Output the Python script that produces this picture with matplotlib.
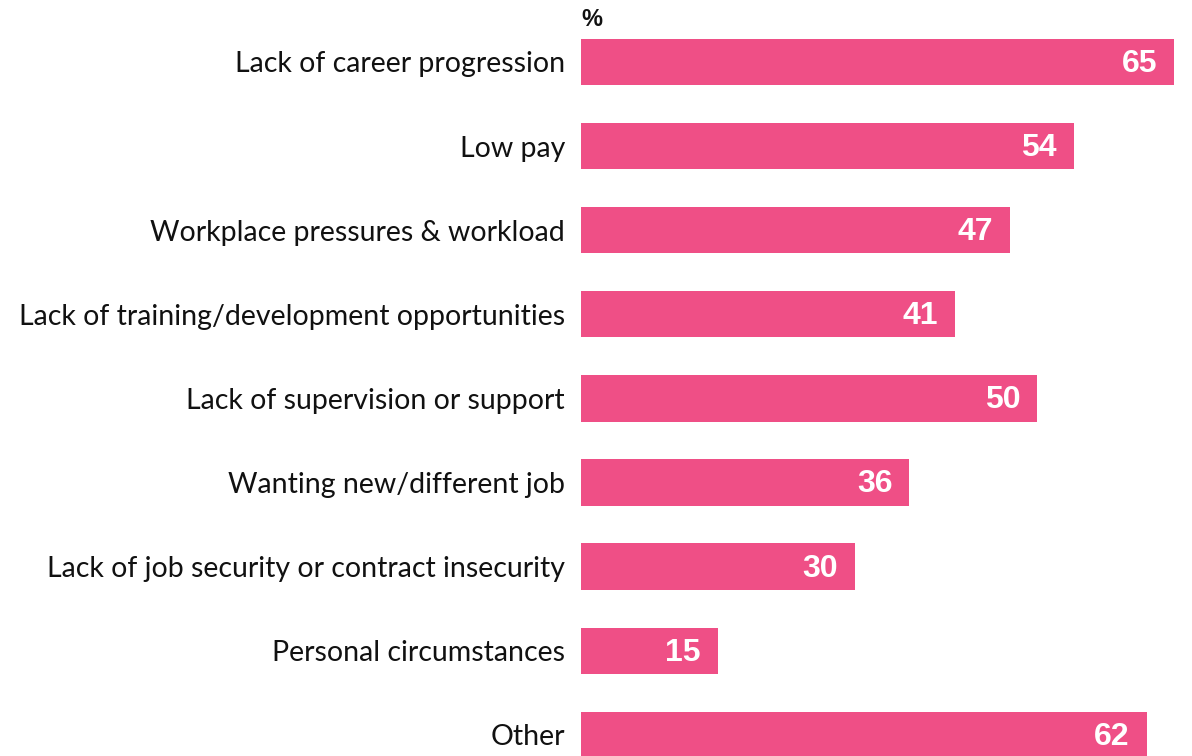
import matplotlib
matplotlib.use("Agg")
import matplotlib.pyplot as plt

# Reasons for leaving, share of respondents (%)
categories = [
    "Lack of career progression",
    "Low pay",
    "Workplace pressures & workload",
    "Lack of training/development opportunities",
    "Lack of supervision or support",
    "Wanting new/different job",
    "Lack of job security or contract insecurity",
    "Personal circumstances",
    "Other",
]
values = [65, 54, 47, 41, 50, 36, 30, 15, 62]

bar_color = "#EF4F86"

fig = plt.figure(figsize=(11.92, 7.56), dpi=100)
ax = fig.add_axes([581 / 1192, 0.0, (1174 - 581) / 1192, 1.0])

positions = list(range(len(categories)))
ax.barh(positions, values, height=0.55, color=bar_color, edgecolor="none")

ax.set_xlim(0, 65)
ax.set_ylim(8.252, -0.737)

# category labels to the left of each bar
ax.set_yticks(positions)
ax.set_yticklabels(categories, fontsize=20.5, family=["Lato", "DejaVu Sans"], color="#111111")
ax.tick_params(axis="y", length=0, pad=11.5)
ax.set_xticks([])
for s in ax.spines.values():
    s.set_visible(False)

# value labels inside the end of each bar
for p, v in zip(positions, values):
    ax.annotate(f"{v}", xy=(v, p), xytext=(-17, -2), textcoords="offset pixels",
                ha="right", va="center", color="white", fontsize=23,
                fontweight="bold", family=["Liberation Sans", "DejaVu Sans"])

fig.text(581 / 1192, 1 - 19 / 756, "%", ha="left", va="center", fontsize=17,
         fontweight="bold", family=["Liberation Sans", "DejaVu Sans"], color="#111111")

fig.savefig("out.png", dpi=100, facecolor="white")
